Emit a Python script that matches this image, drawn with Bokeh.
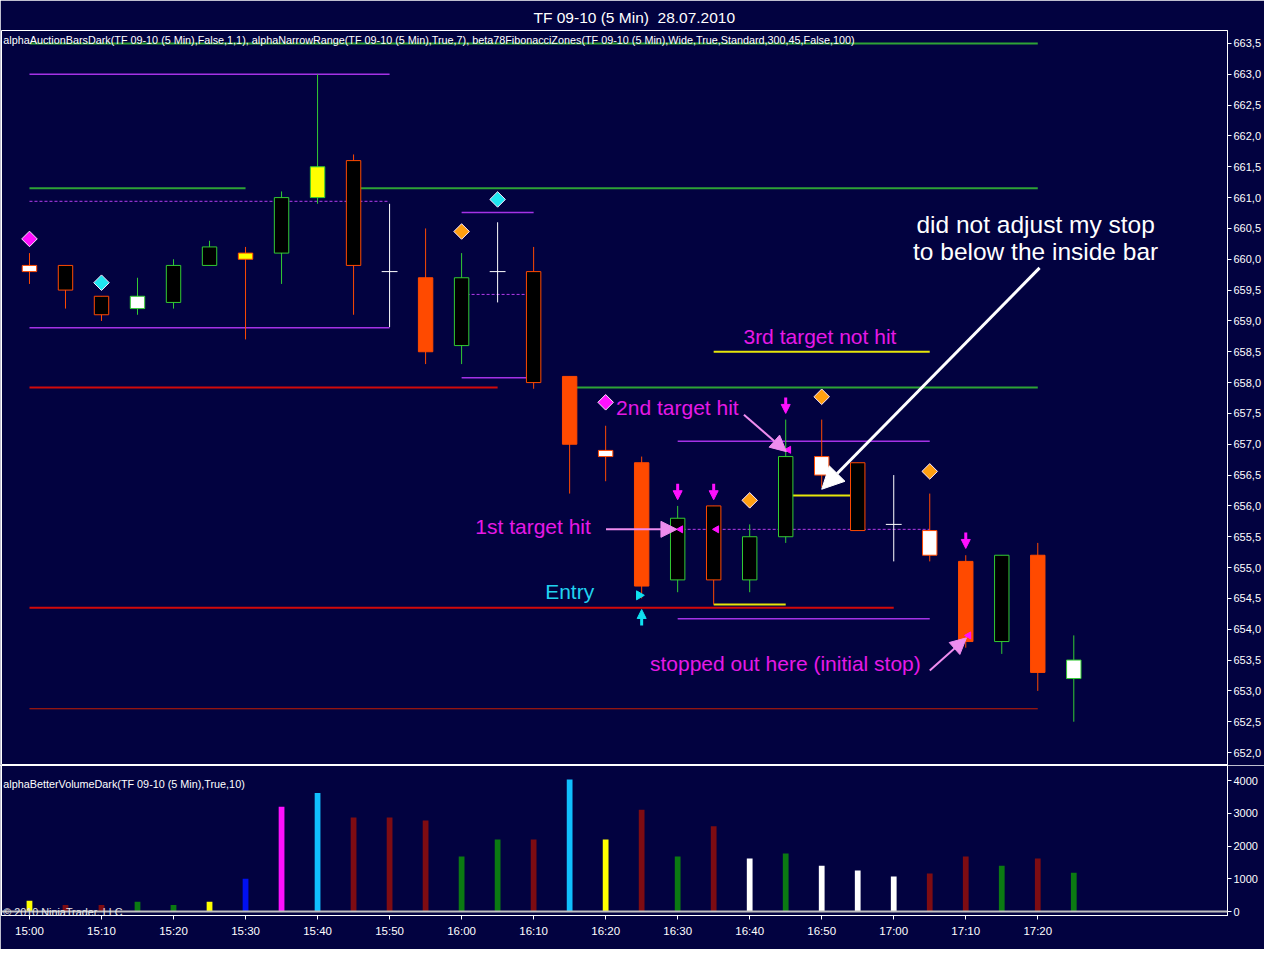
import math
from bokeh.plotting import figure
from bokeh.layouts import column
from bokeh.models import (ColumnDataSource, Range1d, FixedTicker, CustomJSTickFormatter,
                          Label, Arrow, NormalHead, Span)
from bokeh.embed import file_html
from bokeh.resources import INLINE

# ---------------- data ----------------
title_text = "TF 09-10 (5 Min)\u00a0 28.07.2010"
indicator_text = ("alphaAuctionBarsDark(TF 09-10 (5 Min),False,1,1), alphaNarrowRange(TF 09-10 (5 Min),True,7), "
                  "beta78FibonacciZones(TF 09-10 (5 Min),Wide,True,Standard,300,45,False,100)")
volume_text = "alphaBetterVolumeDark(TF 09-10 (5 Min),True,10)"
copyright_text = "\u00a9 2010 NinjaTrader, LLC"

times = ["15:00", "15:05", "15:10", "15:15", "15:20", "15:25", "15:30", "15:35", "15:40", "15:45",
         "15:50", "15:55", "16:00", "16:05", "16:10", "16:15", "16:20", "16:25", "16:30", "16:35",
         "16:40", "16:45", "16:50", "16:55", "17:00", "17:05", "17:10", "17:15", "17:20", "17:25"]

opens = [659.9, 659.9, 659.4, 659.2, 659.3, 659.9, 660.1, 660.1, 661.0, 661.6,
         659.8, 659.7, 658.6, 659.8, 659.8, 658.1, 656.9, 656.7, 654.8, 656.0,
         654.8, 655.5, 656.8, 656.7, 655.7, 655.6, 655.1, 653.8, 655.2, 653.2]
highs = [660.1, 659.9, 659.4, 659.7, 660.0, 660.3, 660.2, 661.1, 663.0, 661.7,
         660.9, 660.5, 660.1, 660.6, 660.2, 658.1, 657.3, 656.8, 656.0, 656.0,
         655.7, 657.4, 657.4, 656.7, 656.5, 656.2, 655.2, 655.2, 655.4, 653.9]
lows = [659.6, 659.2, 659.0, 659.1, 659.2, 659.9, 658.7, 659.6, 660.9, 659.1,
        658.9, 658.3, 658.3, 659.3, 657.9, 656.2, 656.4, 654.5, 654.6, 654.4,
        654.6, 655.4, 656.3, 655.6, 655.1, 655.1, 653.7, 653.6, 653.0, 652.5]
closes = [659.8, 659.5, 659.1, 659.4, 659.9, 660.2, 660.0, 661.0, 661.5, 659.9,
          659.8, 658.5, 659.7, 659.8, 658.0, 657.0, 656.8, 654.7, 655.8, 654.8,
          655.5, 656.8, 656.5, 655.6, 655.7, 655.2, 653.8, 655.2, 653.3, 653.5]
bar_style = ["hollow_o", "dn_black", "dn_black", "hollow_g", "up_black", "up_black", "yellow_o", "up_black",
             "yellow_g", "dn_black", "cross", "dn_solid", "up_black", "cross", "dn_black", "dn_solid",
             "hollow_o", "dn_solid", "up_black", "dn_black", "up_black", "up_black", "hollow_o", "dn_black",
             "cross", "hollow_o", "dn_solid", "up_black", "dn_solid", "hollow_g"]

volumes = [330, 200, 200, 300, 200, 300, 1000, 3200, 3620, 2870,
           2870, 2780, 1680, 2200, 2200, 4030, 2200, 3110, 1680, 2600,
           1620, 1770, 1400, 1250, 1070, 1160, 1680, 1400, 1620, 1183]
vol_style = ["yellow", "dred", "dred", "green", "green", "yellow", "blue", "magenta", "sky", "dred",
             "dred", "dred", "green", "green", "dred", "sky", "yellow", "dred", "green", "dred",
             "white", "green", "white", "white", "white", "dred", "dred", "green", "dred", "green"]

price_ticks = [652.0, 652.5, 653.0, 653.5, 654.0, 654.5, 655.0, 655.5, 656.0, 656.5, 657.0, 657.5,
               658.0, 658.5, 659.0, 659.5, 660.0, 660.5, 661.0, 661.5, 662.0, 662.5, 663.0, 663.5]
volume_ticks = [0, 1000, 2000, 3000, 4000]

# horizontal levels: (price, first bar, last bar)
green_levels = [(663.5, 0, 28), (661.15, 0, 6), (661.15, 9, 28), (657.92, 15, 28)]
violet_levels = [(663.0, 0, 10), (658.89, 0, 10), (660.76, 12, 14), (658.08, 12, 14),
                 (657.05, 18, 25), (654.17, 18, 25)]
violet_dashed_levels = [(660.94, 0, 10), (659.43, 12, 14), (655.62, 18, 25)]
red_levels = [(657.92, 0, 13), (654.35, 0, 24)]
red_thin_levels = [(652.71, 0, 28)]
yellow_levels = [(658.5, 19, 25), (656.17, 21, 23), (654.4, 19, 21)]

# signal markers (bar, price)
magenta_diamonds = [(0, 660.33), (16, 657.68)]
cyan_diamonds = [(2, 659.62), (13, 660.97)]
orange_diamonds = [(12, 660.45), (20, 656.09), (22, 657.77), (25, 656.56)]
down_arrows = [(18, 656.23), (19, 656.23), (21, 657.63), (26, 655.44)]
up_arrows = [(17, 654.19)]
exit_marks = [(18.08, 655.62), (19.08, 655.62), (21.08, 656.91), (26.08, 653.9)]
entry_marks = [(16.93, 654.55)]

# annotations (bar, price)
notes_white = [("did not adjust my stop", 27.94, 660.56), ("to below the inside bar", 27.94, 660.13)]
notes_magenta = [("3rd target not hit", 21.95, 658.75, "center"), ("2nd target hit", 16.29, 657.6, "left"),
                 ("1st target hit", 12.38, 655.67, "left"),
                 ("stopped out here (initial stop)", 17.23, 653.44, "left")]
notes_cyan = [("Entry", 14.32, 654.61, "left")]
white_arrow = (28.05, 659.86, 22.0, 656.27)
pink_arrows = [(19.84, 657.48, 21.02, 656.88), (16.01, 655.62, 17.98, 655.62), (25.0, 653.33, 26.02, 653.86)]

# ---------------- styles ----------------
BG = "#020240"
ORANGE = "#FF4A00"
LGREEN = "#33CC33"
MAG = "#E619E6"
FONT = "Liberation Sans"
style_map = {
    "dn_solid": (ORANGE, ORANGE), "dn_black": ("black", ORANGE), "up_black": ("black", LGREEN),
    "hollow_o": ("white", ORANGE), "hollow_g": ("white", LGREEN),
    "yellow_o": ("#FFFF00", ORANGE), "yellow_g": ("#FFFF00", LGREEN),
}
vol_colors = {"yellow": "#FFFF00", "dred": "#7E0C12", "green": "#0B7A12", "blue": "#0010F0",
              "magenta": "#FF10FF", "sky": "#10BFFF", "white": "#FFFFFF"}

W = 1264
RB = 36
FRAME_W = W - 1 - RB
x_start = -0.777
x_end = x_start + FRAME_W / 36.04
xr = Range1d(x_start, x_end)
P_LO, P_HI = 651.79, 663.71
TOP = 30
FRAME_H = 735

# ---------------- price panel ----------------
p1 = figure(width=W, height=TOP + FRAME_H, x_range=xr, y_range=Range1d(P_LO, P_HI),
            output_backend="svg", toolbar_location=None, x_axis_location=None, y_axis_location="right",
            min_border_left=1, min_border_right=RB, min_border_top=TOP, min_border_bottom=0,
            background_fill_color=BG, border_fill_color=BG, outline_line_color="white")
p1.xgrid.visible = False
p1.ygrid.visible = False
p1.title.text = title_text
p1.title.align = "left"
p1.title.offset = 532
p1.title.text_color = "white"
p1.title.text_font = FONT
p1.title.text_font_size = "15.5px"
p1.title.text_font_style = "normal"

ya = p1.yaxis[0]
ya.ticker = FixedTicker(ticks=price_ticks)
ya.formatter = CustomJSTickFormatter(code="return tick.toFixed(1).replace('.', ',');")
ya.axis_line_color = "white"
ya.major_tick_line_color = "white"
ya.major_tick_out = 4
ya.major_tick_in = 0
ya.minor_tick_line_color = None
ya.major_label_text_color = "white"
ya.major_label_text_font = FONT
ya.major_label_text_font_size = "11px"
ya.major_label_standoff = 2


def level_src(levels):
    return ColumnDataSource(dict(y=[l[0] for l in levels], x0=[l[1] for l in levels],
                                 x1=[l[2] for l in levels]))


p1.segment(x0="x0", y0="y", x1="x1", y1="y", source=level_src(red_thin_levels), line_color="#C81E00", line_width=1)
p1.segment(x0="x0", y0="y", x1="x1", y1="y", source=level_src(green_levels), line_color="#2EA336", line_width=2)
p1.segment(x0="x0", y0="y", x1="x1", y1="y", source=level_src(violet_levels), line_color="#A532E6", line_width=1.5)
p1.segment(x0="x0", y0="y", x1="x1", y1="y", source=level_src(violet_dashed_levels), line_color="#B43CEB",
           line_width=1, line_dash="3 2")
p1.segment(x0="x0", y0="y", x1="x1", y1="y", source=level_src(red_levels), line_color="#D20A0A", line_width=2)
p1.segment(x0="x0", y0="y", x1="x1", y1="y", source=level_src(yellow_levels), line_color="#E6E60A", line_width=2)

# candles
cx, ch, cl, ctop, cbot, cfill, cline = [], [], [], [], [], [], []
kx, kh, kl, kc = [], [], [], []
for i in range(len(times)):
    if bar_style[i] == "cross":
        kx.append(i); kh.append(highs[i]); kl.append(lows[i]); kc.append(closes[i])
        continue
    f, l = style_map[bar_style[i]]
    cx.append(i); ch.append(highs[i]); cl.append(lows[i])
    ctop.append(max(opens[i], closes[i])); cbot.append(min(opens[i], closes[i]))
    cfill.append(f); cline.append(l)
csrc = ColumnDataSource(dict(x=cx, high=ch, low=cl, top=ctop, bottom=cbot, fill=cfill, line=cline))
p1.segment(x0="x", y0="high", x1="x", y1="low", line_color="line", line_width=1, source=csrc)
p1.vbar(x="x", width=0.4, top="top", bottom="bottom", fill_color="fill", line_color="line",
        line_width=1, source=csrc)
ksrc = ColumnDataSource(dict(x=kx, high=kh, low=kl, close=kc,
                             xl=[v - 0.22 for v in kx], xr=[v + 0.22 for v in kx]))
p1.segment(x0="x", y0="high", x1="x", y1="low", line_color="white", line_width=1, source=ksrc)
p1.segment(x0="xl", y0="close", x1="xr", y1="close", line_color="white", line_width=1, source=ksrc)

# diamonds
for pts, col in ((magenta_diamonds, "#FF10FF"), (cyan_diamonds, "#20E6F0"), (orange_diamonds, "#FFA010")):
    p1.scatter(x=[v[0] for v in pts], y=[v[1] for v in pts], marker="square", angle=math.pi / 4, size=11,
               fill_color=col, line_color="#FFE8FF", line_width=1)

# arrows (signals)
dsrc = ColumnDataSource(dict(x=[v[0] for v in down_arrows], y0=[v[1] + 0.13 for v in down_arrows],
                             y1=[v[1] - 0.13 for v in down_arrows]))
p1.add_layout(Arrow(end=NormalHead(size=9, fill_color="#FF10FF", line_color="#FF10FF"),
                    x_start="x", y_start="y0", x_end="x", y_end="y1", source=dsrc,
                    line_color="#FF10FF", line_width=3))
usrc = ColumnDataSource(dict(x=[v[0] for v in up_arrows], y0=[v[1] - 0.13 for v in up_arrows],
                             y1=[v[1] + 0.13 for v in up_arrows]))
p1.add_layout(Arrow(end=NormalHead(size=9, fill_color="#10E0F0", line_color="#10E0F0"),
                    x_start="x", y_start="y0", x_end="x", y_end="y1", source=usrc,
                    line_color="#10E0F0", line_width=3))
p1.scatter(x=[v[0] for v in exit_marks], y=[v[1] for v in exit_marks], marker="triangle",
           angle=math.pi / 2, size=7, fill_color="#FF10FF", line_color="#FF10FF")
p1.scatter(x=[v[0] for v in entry_marks], y=[v[1] for v in entry_marks], marker="triangle",
           angle=-math.pi / 2, size=9, fill_color="#10E0F0", line_color="#10E0F0")

# annotation arrows
x0, y0, x1, y1 = white_arrow
p1.add_layout(Arrow(end=NormalHead(size=22, fill_color="white", line_color="white"),
                    x_start=x0, y_start=y0, x_end=x1, y_end=y1, line_color="white", line_width=3))
for (x0, y0, x1, y1) in pink_arrows:
    p1.add_layout(Arrow(end=NormalHead(size=16, fill_color="#EE8CEE", line_color="#EE8CEE"),
                        x_start=x0, y_start=y0, x_end=x1, y_end=y1, line_color="#EE8CEE", line_width=2))

# texts
p1.add_layout(Label(x=x_start + 0.05, y=663.56, text=indicator_text, text_color="white", text_font=FONT,
                    text_font_size="10.8px", text_baseline="middle"))
for t, x, y in notes_white:
    p1.add_layout(Label(x=x, y=y, text=t, text_color="white", text_font=FONT, text_font_size="24.5px",
                        text_align="center", text_baseline="middle"))
for t, x, y, a in notes_magenta:
    p1.add_layout(Label(x=x, y=y, text=t, text_color=MAG, text_font=FONT, text_font_size="21px",
                        text_align=a, text_baseline="middle"))
for t, x, y, a in notes_cyan:
    p1.add_layout(Label(x=x, y=y, text=t, text_color="#20D2F0", text_font=FONT, text_font_size="21px",
                        text_align=a, text_baseline="middle"))

# ---------------- volume panel ----------------
V_LO, V_HI = -122, 4458
VH = 150
p2 = figure(width=W, height=VH + 34, x_range=xr, y_range=Range1d(V_LO, V_HI),
            output_backend="svg", toolbar_location=None, y_axis_location="right",
            min_border_left=1, min_border_right=RB, min_border_top=0, min_border_bottom=34,
            background_fill_color=BG, border_fill_color=BG, outline_line_color="white")
p2.xgrid.visible = False
p2.ygrid.visible = False
p2.add_layout(Span(location=0, dimension="width", line_color="#BEBEBE", line_width=2))
vsrc = ColumnDataSource(dict(x=list(range(len(volumes))), v=volumes, c=[vol_colors[s] for s in vol_style]))
p2.vbar(x="x", width=0.16, top="v", bottom=0, fill_color="c", line_color=None, source=vsrc)

xa = p2.xaxis[0]
xa.ticker = FixedTicker(ticks=list(range(0, 29, 2)))
xa.major_label_overrides = {i: times[i] for i in range(0, 29, 2)}
for ax in (xa, p2.yaxis[0]):
    ax.axis_line_color = "white"
    ax.major_tick_line_color = "white"
    ax.major_tick_out = 4
    ax.major_tick_in = 0
    ax.minor_tick_line_color = None
    ax.major_label_text_color = "white"
    ax.major_label_text_font = FONT
    ax.major_label_text_font_size = "11.5px"
xa.major_label_standoff = 5
p2.yaxis[0].ticker = FixedTicker(ticks=volume_ticks)
p2.yaxis[0].major_label_text_font_size = "11px"
p2.yaxis[0].major_label_standoff = 2

p2.add_layout(Label(x=x_start + 0.05, y=3900, text=volume_text, text_color="white", text_font=FONT,
                    text_font_size="10.8px", text_baseline="middle"))
p2.add_layout(Label(x=x_start + 0.05, y=-20, text=copyright_text, text_color="#E6E6E6", text_font=FONT,
                    text_font_size="10.8px", text_baseline="middle"))

layout = column(p1, p2, spacing=0)
open("out.html", "w").write(file_html(layout, INLINE))
